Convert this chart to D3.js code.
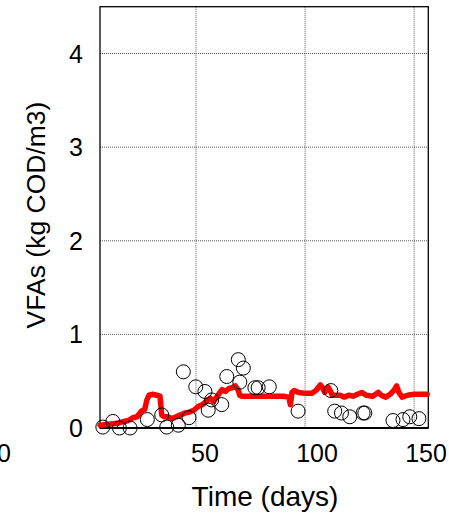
<!DOCTYPE html>
<html>
<head>
<meta charset="utf-8">
<script src="https://cdn.jsdelivr.net/npm/d3@7"></script>
<style>
  body { margin: 0; background: #fff; }
  svg text { font-family: "Liberation Sans", Arial, sans-serif; fill: #000; }
</style>
</head>
<body>
<div id="chart"></div>
<script>
// measured VFAs (circles)
var measDays = [7.3, 11.9, 14.9, 19.8, 27.7, 34.3, 36.6, 41.9, 46.8, 44.2, 49.9, 54.1, 57.2, 55.6, 61.8, 64.1, 69.4, 71.7, 70.1,
    77.0, 78.5, 83.6, 96.8, 111.8, 113.6, 116.7, 120.5, 126.6, 127.4, 140.3, 144.9, 148.0, 152.2];
var measVfa = [0.01, 0.07, 0.0, 0.0, 0.09, 0.14, 0.01, 0.03, 0.11, 0.60, 0.44, 0.39, 0.30, 0.19, 0.25, 0.55, 0.73, 0.64, 0.49,
    0.43, 0.43, 0.44, 0.18, 0.40, 0.18, 0.16, 0.12, 0.16, 0.16, 0.08, 0.09, 0.12, 0.10];

// simulated VFAs (red line)
var simDays = [6, 10, 14, 17, 19, 21, 23, 25, 26.5, 27.5, 28.5, 30, 32, 33.5, 34.3, 35.3, 37, 39, 41, 43, 45, 47, 49, 51, 53,
    55, 56.5, 58, 59.5, 61, 62, 63.5, 65, 66.5, 68, 69.5, 70, 71, 75, 80, 85, 90, 92.5, 93.3, 94, 95, 97, 100, 103, 105,
    107, 108, 109, 110.5, 111.5, 112.5, 116, 118, 120, 122, 124, 126, 128, 131, 133.5, 135, 137, 139, 141, 142, 143, 144.5,
    147, 150, 156];
var simVfa = [0.03, 0.04, 0.05, 0.07, 0.08, 0.11, 0.12, 0.18, 0.20, 0.30, 0.35, 0.36, 0.35, 0.34, 0.14, 0.12, 0.12, 0.10, 0.12, 0.14, 0.16, 0.17, 0.19, 0.23, 0.25,
    0.29, 0.32, 0.28, 0.33, 0.38, 0.41, 0.39, 0.42, 0.43, 0.45, 0.40, 0.35, 0.34, 0.34, 0.34, 0.34, 0.34, 0.33, 0.25, 0.38, 0.40, 0.38, 0.37, 0.37, 0.40,
    0.46, 0.43, 0.38, 0.44, 0.40, 0.35, 0.35, 0.33, 0.35, 0.34, 0.36, 0.38, 0.35, 0.34, 0.38, 0.35, 0.33, 0.36, 0.41, 0.45, 0.38, 0.33,
    0.35, 0.36, 0.36];

var xTicks = [50, 100, 150];
var xTickLabels = [0, 50, 100, 150];
var yTicks = [0, 1, 2, 3, 4];

(function() {
    var width = 449, height = 517;
    var pLeft = 100, pRight = 428.3, pTop = 6.7, pBottom = 428;

    var svg = d3.select("#chart").append("svg")
        .attr("width", width)
        .attr("height", height);

    var x = d3.scaleLinear().domain([6, 156.5]).range([pLeft, pRight]);
    var y = d3.scaleLinear().domain([0, 4.5]).range([pBottom, pTop]);
    // the tick labels in the figure sit off the gridlines, so they get their own scale
    var xLab = d3.scaleLinear().domain([0, 50, 100, 150]).range([4, 205, 317, 426]);

    // grid
    svg.append("g").selectAll("line")
        .data(xTicks).enter().append("line")
        .attr("x1", d => x(d)).attr("x2", d => x(d))
        .attr("y1", pTop).attr("y2", pBottom)
        .attr("stroke", "#333").attr("stroke-width", 0.8)
        .attr("stroke-dasharray", "1,1");
    svg.append("g").selectAll("line")
        .data(yTicks.filter(d => d > 0)).enter().append("line")
        .attr("x1", pLeft).attr("x2", pRight)
        .attr("y1", d => y(d)).attr("y2", d => y(d))
        .attr("stroke", "#333").attr("stroke-width", 0.8)
        .attr("stroke-dasharray", "1,1");

    // box
    svg.append("rect")
        .attr("x", pLeft).attr("y", pTop)
        .attr("width", pRight - pLeft).attr("height", pBottom - pTop)
        .attr("fill", "none").attr("stroke", "#000").attr("stroke-width", 1.3);
    svg.append("line")
        .attr("x1", pLeft).attr("x2", pRight).attr("y1", pBottom).attr("y2", pBottom)
        .attr("stroke", "#000").attr("stroke-width", 2);

    // simulated line
    var sim = simDays.map((d, i) => [d, simVfa[i]]);
    svg.append("path")
        .datum(sim)
        .attr("fill", "none")
        .attr("stroke", "#ff0000")
        .attr("stroke-width", 5.5)
        .attr("stroke-linejoin", "round")
        .attr("stroke-linecap", "round")
        .attr("d", d3.line().x(d => x(d[0])).y(d => y(d[1])));

    // measured circles
    svg.append("g").selectAll("circle")
        .data(measDays.map((d, i) => [d, measVfa[i]]))
        .enter().append("circle")
        .attr("cx", d => x(d[0]))
        .attr("cy", d => y(d[1]))
        .attr("r", 7)
        .attr("fill", "none")
        .attr("stroke", "#000")
        .attr("stroke-width", 1);

    // tick labels
    svg.append("g").selectAll("text")
        .data(yTicks).enter().append("text")
        .attr("x", 83)
        .attr("y", d => y(d) + 9)
        .attr("text-anchor", "end")
        .attr("font-size", 25)
        .text(d => d);
    svg.append("g").selectAll("text")
        .data(xTickLabels).enter().append("text")
        .attr("x", d => xLab(d))
        .attr("y", 462)
        .attr("text-anchor", "middle")
        .attr("font-size", 25)
        .text(d => d);

    // axis titles
    svg.append("text")
        .attr("x", 265).attr("y", 506)
        .attr("text-anchor", "middle")
        .attr("font-size", 28)
        .text("Time (days)");
    svg.append("text")
        .attr("transform", "translate(45,215) rotate(-90)")
        .attr("text-anchor", "middle")
        .attr("font-size", 26.5)
        .text("VFAs (kg COD/m3)");
})();
</script>
</body>
</html>
